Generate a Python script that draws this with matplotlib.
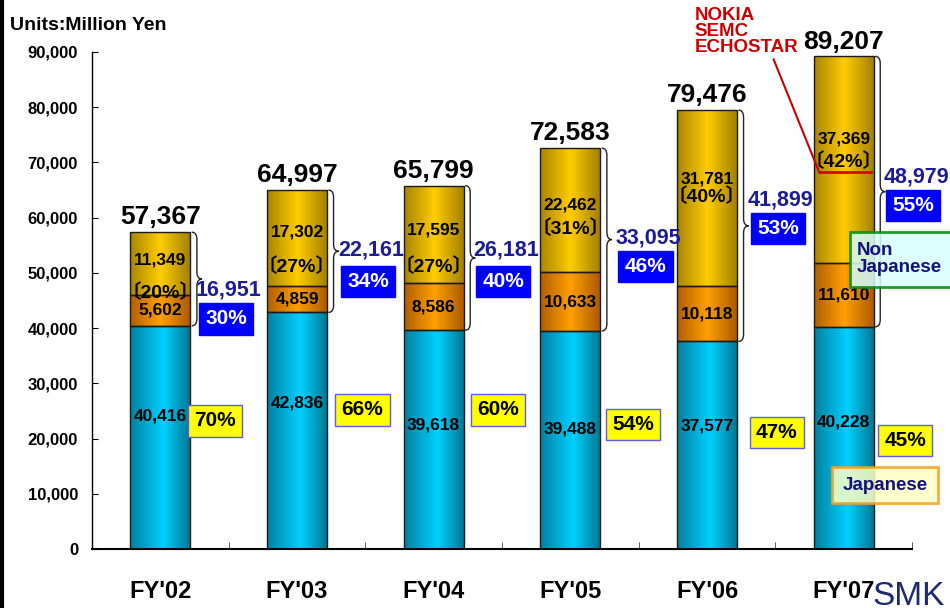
import numpy as np
import matplotlib.pyplot as plt
from matplotlib.colors import LinearSegmentedColormap
from matplotlib.path import Path
from matplotlib.patches import PathPatch, Rectangle
from matplotlib.lines import Line2D

# data (Units: Million Yen)
years = ["FY'02", "FY'03", "FY'04", "FY'05", "FY'06", "FY'07"]
japanese = [40416, 42836, 39618, 39488, 37577, 40228]
non_jp_other = [5602, 4859, 8586, 10633, 10118, 11610]
non_jp_major = [11349, 17302, 17595, 22462, 31781, 37369]
totals = [57367, 64997, 65799, 72583, 79476, 89207]
non_jp_totals = [16951, 22161, 26181, 33095, 41899, 48979]
major_share = [20, 27, 27, 31, 40, 42]
non_jp_share = [30, 34, 40, 46, 53, 55]
jp_share = [70, 66, 60, 54, 47, 45]

# label placement (layout only)
jp_label_y = [24100, 26400, 22500, 21700, 22300, 23000]
major_label_y = [52300, 57400, 57800, 62300, 67000, 74250]
share_label_y = [46500, 51100, 51100, 58100, 63750, 70100]
non_jp_label_y = [46900, 54150, 54150, 56300, 63200, 67400]
non_jp_box_y = [41650, 48450, 48450, 51150, 58050, 62200]
non_jp_dx = [0.48, 0.52, 0.51, 0.55, 0.52, 0.51]
jp_box_y = [23200, 25200, 25200, 22550, 21100, 19650]
jp_box_dx = [0.40, 0.48, 0.47, 0.46, 0.51, 0.45]

FONT = 'Liberation Sans'
NAVY = '#1c1c96'

W, H = 950, 608
fig = plt.figure(figsize=(W / 100, H / 100), dpi=100)
fig.patch.set_facecolor('white')


def fx(px):
    return px / W


def fy(py):
    return 1 - py / H


ax = fig.add_axes([fx(92), fy(549), fx(912) - fx(92), fy(52) - fy(549)])

x = np.arange(len(years))
bw = 0.44
mid_bottom = np.array(japanese)
top_bottom = mid_bottom + np.array(non_jp_other)

bar_kw = dict(width=bw, facecolor='none', edgecolor='#1a1a1a', linewidth=1, zorder=3)
b_jp = ax.bar(x, japanese, **bar_kw)
b_other = ax.bar(x, non_jp_other, bottom=mid_bottom, **bar_kw)
b_major = ax.bar(x, non_jp_major, bottom=top_bottom, **bar_kw)


def shade(bars, colors):
    # cylinder-like horizontal gradient clipped to each bar
    cmap = LinearSegmentedColormap.from_list('shade', colors)
    grad = np.linspace(0, 1, 256).reshape(1, -1)
    for r in bars:
        x0, y0 = r.get_x(), r.get_y()
        im = ax.imshow(grad, extent=[x0, x0 + r.get_width(), y0, y0 + r.get_height()],
                       aspect='auto', cmap=cmap, zorder=2, interpolation='bilinear')
        im.set_clip_path(r)


shade(b_jp, [(0, '#00809f'), (0.55, '#00d0ff'), (1, '#00748f')])
shade(b_other, [(0, '#b05e00'), (0.5, '#ff9f00'), (1, '#a85800')])
shade(b_major, [(0, '#a88400'), (0.5, '#ffcc00'), (1, '#a07e00')])

ax.set_xlim(-0.5, 5.5)
ax.set_ylim(0, 90000)


def brace(xl, y0, y1, w=0.075, r=1300):
    ym = (y0 + y1) / 2
    xm = xl + w / 2
    verts = [(xl, y1), (xm, y1), (xm, y1 - r), (xm, ym + r), (xm, ym), (xl + w, ym),
             (xm, ym), (xm, ym - r), (xm, y0 + r), (xm, y0), (xl, y0)]
    codes = [Path.MOVETO, Path.CURVE3, Path.CURVE3, Path.LINETO, Path.CURVE3, Path.CURVE3,
             Path.CURVE3, Path.CURVE3, Path.LINETO, Path.CURVE3, Path.CURVE3]
    ax.add_patch(PathPatch(Path(verts, codes), fill=False, edgecolor='#222222',
                           linewidth=1, zorder=4, clip_on=False))


for i in range(len(years)):
    right = x[i] + bw / 2
    brace(right + 0.01, japanese[i], totals[i])

    # values inside bars
    ax.text(x[i], jp_label_y[i], f'{japanese[i]:,}', ha='center', va='center',
            fontsize=12.5, fontweight='bold', family=FONT, zorder=5)
    ax.text(x[i], mid_bottom[i] + non_jp_other[i] / 2, f'{non_jp_other[i]:,}', ha='center',
            va='center', fontsize=12.5, fontweight='bold', family=FONT, zorder=5)
    ax.text(x[i], major_label_y[i], f'{non_jp_major[i]:,}', ha='center', va='center',
            fontsize=12.5, fontweight='bold', family=FONT, zorder=5)
    ax.text(x[i], share_label_y[i], f'〔{major_share[i]}%〕', ha='center', va='center',
            fontsize=14, fontweight='bold', family=[FONT, 'Noto Sans CJK JP'], zorder=5)

    # totals on top
    ax.annotate(f'{totals[i]:,}', (x[i], totals[i]), xytext=(0, 2), textcoords='offset points',
                ha='center', va='bottom', fontsize=19, fontweight='bold', family=FONT,
                annotation_clip=False)

    # non japanese sum and share
    ax.text(x[i] + non_jp_dx[i] + 0.02, non_jp_label_y[i], f'{non_jp_totals[i]:,}',
            ha='center', va='center', fontsize=15.5, fontweight='bold', color=NAVY,
            family=FONT, zorder=6, clip_on=False)
    ax.text(x[i] + non_jp_dx[i], non_jp_box_y[i], f'{non_jp_share[i]}%', ha='center',
            va='center', fontsize=15, fontweight='bold', color='white', family=FONT, zorder=6,
            bbox=dict(boxstyle='square,pad=0.3', facecolor='#0000ff', edgecolor='#0000ff'))

    # japanese share
    ax.text(x[i] + jp_box_dx[i], jp_box_y[i], f'{jp_share[i]}%', ha='center', va='center',
            fontsize=15, fontweight='bold', color='black', family=FONT, zorder=6,
            bbox=dict(boxstyle='square,pad=0.3', facecolor='#ffff00', edgecolor='#5b5bff',
                      linewidth=1))

# red callout for the FY'07 major customers
last = b_major[-1]
ul_y = 68300
ax.plot([last.get_x() + 0.04, last.get_x() + 0.42], [ul_y, ul_y], color='#e00000',
        linewidth=2, zorder=6)
ax.annotate('NOKIA\nSEMC\nECHOSTAR', xy=(last.get_x() + 0.04, ul_y), xytext=(3.91, 98200),
            textcoords='data', ha='left', va='top', fontsize=13.5, fontweight='bold',
            color='#cc0000', family=FONT, linespacing=0.95, annotation_clip=False,
            arrowprops=dict(arrowstyle='-', color='#cc0000', linewidth=1.5,
                            shrinkA=0, shrinkB=0, relpos=(0.75, 0)))

# axes styling
for s in ['top', 'right']:
    ax.spines[s].set_visible(False)
ax.spines['left'].set_linewidth(1)
ax.spines['bottom'].set_linewidth(1.5)
ax.set_yticks(np.arange(0, 90001, 10000))
ax.set_yticklabels([f'{v:,}' for v in range(0, 90001, 10000)])
ax.tick_params(axis='y', direction='in', length=4, pad=10, labelsize=12)
ax.set_xticks(x)
ax.set_xticklabels(years)
ax.tick_params(axis='x', which='major', length=0, pad=22, labelsize=17)
ax.set_xticks(x + 0.5, minor=True)
ax.tick_params(axis='x', which='minor', direction='in', length=5, color='#444444')
for lab in ax.get_xticklabels() + ax.get_yticklabels():
    lab.set_fontweight('bold')
    lab.set_family(FONT)

fig.text(fx(10), fy(25), 'Units:Million Yen', ha='left', va='center', fontsize=14,
         fontweight='bold', family=FONT)

# legend boxes
fig.add_artist(Rectangle((fx(850), fy(287)), fx(960) - fx(850), fy(232) - fy(287),
                         transform=fig.transFigure, facecolor='#d8ffff', alpha=0.85,
                         edgecolor='#008a00', linewidth=2, zorder=7))
fig.text(fx(857), fy(259), 'Non\nJapanese', ha='left', va='center', fontsize=13.5,
         fontweight='bold', color='#12127a', family=FONT, linespacing=1.05, zorder=8)
fig.add_artist(Rectangle((fx(832), fy(503)), fx(938) - fx(832), fy(467) - fy(503),
                         transform=fig.transFigure, facecolor='#ffffc4', alpha=0.85,
                         edgecolor='#f5a020', linewidth=2, zorder=7))
fig.text(fx(885), fy(485), 'Japanese', ha='center', va='center', fontsize=13.5,
         fontweight='bold', color='#12127a', family=FONT, zorder=8)

# logo and left frame
fig.text(fx(872), fy(605), 'SMK', ha='left', va='baseline', fontsize=24, color='#1e2a6e',
         family=FONT)
fig.add_artist(Line2D([fx(1.5), fx(1.5)], [0, 1], transform=fig.transFigure, color='black',
                      linewidth=3))

fig.savefig('out.png', dpi=100)
